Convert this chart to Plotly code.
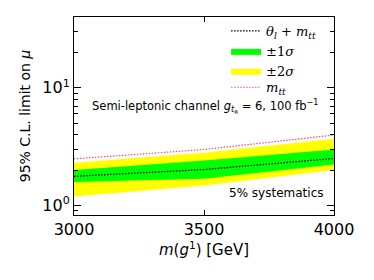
import numpy as np
import plotly.graph_objects as go

mass = [3000, 3500, 4000]
median = [1.77, 2.02, 2.51]
sig1_lo = [1.58, 1.69, 2.23]
sig1_hi = [2.00, 2.41, 2.99]
sig2_lo = [1.19, 1.48, 2.00]
sig2_hi = [2.31, 2.80, 3.69]
mtt_only = [2.49, 2.99, 3.97]

x_ticks = [3000, 3500, 4000]
y_ticks = [1, 10]
y_ticktext = ["10<sup>0</sup>", "10<sup>1</sup>"]
y_minor = [0.9, 2, 3, 4, 5, 6, 7, 8, 9, 20, 30]

serif = "DejaVu Serif"
sans = "DejaVu Sans"

fig = go.Figure()
# 2 sigma band
fig.add_trace(go.Scatter(x=mass, y=sig2_lo, mode="lines", line=dict(width=0, color="#ffff00"),
                         showlegend=False, hoverinfo="skip"))
fig.add_trace(go.Scatter(x=mass, y=sig2_hi, mode="lines", line=dict(width=0, color="#ffff00"),
                         fill="tonexty", fillcolor="#ffff00", name="±2<i>σ</i>", legendrank=3))
# 1 sigma band
fig.add_trace(go.Scatter(x=mass, y=sig1_lo, mode="lines", line=dict(width=0, color="#00ff00"),
                         showlegend=False, hoverinfo="skip"))
fig.add_trace(go.Scatter(x=mass, y=sig1_hi, mode="lines", line=dict(width=0, color="#00ff00"),
                         fill="tonexty", fillcolor="#00ff00", name="±1<i>σ</i>", legendrank=2))
# lines
fig.add_trace(go.Scatter(x=mass, y=median, mode="lines", line=dict(width=1.3, color="black", dash="1.5px,1.5px"),
                         name="<i>θ</i><sub><i>l</i></sub> + <i>m</i><sub><i>tt</i></sub>", legendrank=1))
fig.add_trace(go.Scatter(x=mass, y=mtt_only, mode="lines", line=dict(width=1.2, color="#ff5050", dash="1.5px,1.5px"),
                         name="<i>m</i><sub><i>tt</i></sub>", legend="legend2"))

fig.add_annotation(x=0.504, y=0.55, xref="paper", yref="paper", showarrow=False,
                   xanchor="center", yanchor="middle",
                   text="Semi-leptonic channel <i>g</i><sub><i>t</i><sub>R</sub></sub> = 6, 100 fb<sup>−1</sup>",
                   font=dict(family=sans, size=11.5, color="black"))
fig.add_annotation(x=0.777, y=0.113, xref="paper", yref="paper", showarrow=False,
                   xanchor="center", yanchor="middle",
                   text="5% systematics", font=dict(family=sans, size=12, color="black"))

axis_common = dict(showline=True, linecolor="black", linewidth=1, mirror="ticks", ticks="inside",
                   showgrid=False, zeroline=False, tickcolor="black")

fig.update_xaxes(range=[3000, 4000], tickvals=x_ticks, ticklen=5,
                 tickfont=dict(family=sans, size=16, color="black"),
                 title=dict(text="<i>m</i>(<i>g</i><sup>1</sup>) [GeV]", font=dict(family=sans, size=15, color="black"),
                            standoff=4),
                 **axis_common)
fig.update_yaxes(type="log", range=[np.log10(0.83), np.log10(40)], tickvals=y_ticks, ticktext=y_ticktext,
                 ticklen=7, tickfont=dict(family=sans, size=16, color="black"),
                 minor=dict(tickvals=y_minor, ticklen=4, ticks="inside", tickcolor="black"),
                 title=dict(text="95% C.L. limit on <i>μ</i>", font=dict(family=sans, size=14, color="black"),
                            standoff=8),
                 **axis_common)

legend_common = dict(bgcolor="rgba(0,0,0,0)", font=dict(family=serif, size=13, color="black"),
                     tracegroupgap=0, traceorder="normal", itemwidth=30,
                     xanchor="left", x=0.585)
fig.update_layout(
    width=374, height=280,
    margin=dict(l=74, r=40, t=17, b=64.5),
    plot_bgcolor="white", paper_bgcolor="white",
    legend=dict(y=1.005, yanchor="top", **legend_common),
    legend2=dict(y=0.645, yanchor="middle", **legend_common),
    showlegend=True,
)

fig.write_html("out.html", post_script="document.body.style.margin='0';",
               config={"displayModeBar": False})
